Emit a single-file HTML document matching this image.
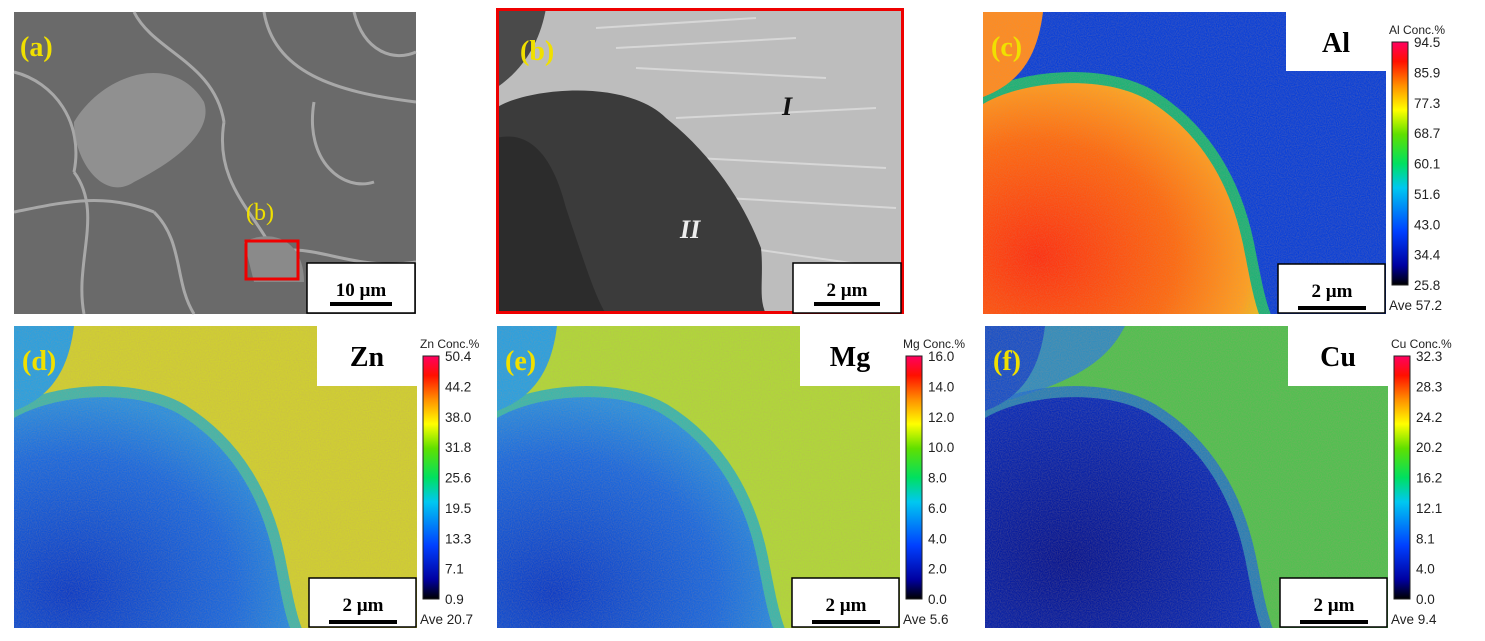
<!DOCTYPE html>
<html><head><meta charset="utf-8"><style>
body{margin:0;background:#fff;width:1485px;height:641px;overflow:hidden;font-family:"Liberation Sans",sans-serif}
svg{position:absolute;left:0;top:0}
</style></head><body>
<svg width="1485" height="641" viewBox="0 0 1485 641">
<defs>
<linearGradient id="cbar" x1="0" y1="1" x2="0" y2="0">
<stop offset="0" stop-color="#000"/><stop offset="0.08" stop-color="#0000a0"/><stop offset="0.22" stop-color="#0040ff"/><stop offset="0.4" stop-color="#00c8f0"/><stop offset="0.5" stop-color="#00e060"/><stop offset="0.62" stop-color="#60e000"/><stop offset="0.72" stop-color="#ffff00"/><stop offset="0.82" stop-color="#ff9000"/><stop offset="0.92" stop-color="#ff1000"/><stop offset="1" stop-color="#ff0060"/>
</linearGradient>
<filter id="noise" x="0" y="0" width="100%" height="100%"><feTurbulence type="fractalNoise" baseFrequency="0.9" numOctaves="1" seed="3"/><feColorMatrix type="matrix" values="0 0 0 0 0.5 0 0 0 0 0.3 0 0 0 0 0.2 0 0 0 0.5 -0.15"/></filter>
<radialGradient id="alIn" cx="0.2" cy="0.75" r="0.9"><stop offset="0" stop-color="#ff3010"/><stop offset="0.55" stop-color="#ff6a10"/><stop offset="0.85" stop-color="#ffa020"/><stop offset="1" stop-color="#d8d820"/></radialGradient>
<radialGradient id="blueIn" cx="0.2" cy="0.85" r="0.85"><stop offset="0" stop-color="#0a3cc8"/><stop offset="0.7" stop-color="#1a6ae0"/><stop offset="1" stop-color="#2a90e0"/></radialGradient>
<radialGradient id="cuIn" cx="0.3" cy="0.7" r="0.8"><stop offset="0" stop-color="#051490"/><stop offset="1" stop-color="#0a30c0"/></radialGradient>
<clipPath id="pclip"><rect width="403" height="302"/></clipPath>
<path id="part" d="M0,92 C40,68 120,62 165,88 C220,122 248,175 260,232 C266,262 270,285 276,302 L0,302 Z"/>
</defs>

<g transform="translate(14,12)">
<rect width="402" height="302" fill="#6a6a6a"/>
<g fill="none" stroke="#b8b8b8" stroke-width="3" opacity="0.8">
<path d="M0,60 C40,70 70,110 60,160 M60,160 C90,200 60,250 70,302 M120,0 C140,40 200,50 210,110 M210,110 C200,170 240,200 260,240 M260,240 C300,230 340,260 402,250 M250,0 C260,60 320,80 402,90 M300,90 C290,150 330,180 360,170 M0,200 C50,190 90,180 140,200 M140,200 C170,230 160,270 180,302 M340,0 C350,40 380,50 402,40"/>
</g>
<path d="M60,110 C90,60 160,40 190,90 C200,120 160,150 120,170 C90,190 60,150 60,110Z" fill="#9a9a9a" opacity="0.8"/>
<path d="M230,230 C260,215 290,230 290,270 L240,270Z" fill="#8a8a8a"/>
<rect x="232" y="229" width="52" height="38" fill="none" stroke="#e00" stroke-width="3"/>
<text x="232" y="208" font-family="Liberation Serif" font-size="24" fill="#f0e000">(b)</text>
<text x="6" y="44" font-family="Liberation Serif" font-size="28" font-weight="bold" fill="#f0e000">(a)</text>
<rect x="293" y="251" width="108" height="50" fill="#fff" stroke="#000" stroke-width="1.5"/>
<text x="347" y="284" text-anchor="middle" font-family="Liberation Serif" font-size="19" font-weight="bold">10 µm</text>
<rect x="316" y="290" width="62" height="4" fill="#000"/>
</g>

<g transform="translate(496,8)">
<rect width="408" height="306" fill="#bdbdbd"/>
<g stroke="#e8e8e8" stroke-width="2" opacity="0.6" fill="none"><path d="M120,40 L300,30 M140,60 L330,70 M180,110 L380,100 M200,150 L390,160 M230,190 L400,200 M250,240 L390,260 M100,20 L260,10"/></g>
<path d="M0,100 C30,80 130,70 170,110 C220,150 250,200 265,240 C268,270 262,290 270,306 L0,306 Z" fill="#3b3b3b"/>
<path d="M0,130 C40,120 60,160 70,200 C90,260 100,290 110,306 L0,306Z" fill="#2c2c2c"/>
<path d="M0,0 L50,0 C45,30 30,60 0,80Z" fill="#4a4a4a"/>
<rect x="1.5" y="1.5" width="405" height="303" fill="none" stroke="#e00" stroke-width="3"/>
<text x="24" y="52" font-family="Liberation Serif" font-size="28" font-weight="bold" fill="#f0e000">(b)</text>
<text x="286" y="107" font-family="Liberation Serif" font-size="26" font-style="italic" font-weight="bold" fill="#111">I</text>
<text x="184" y="230" font-family="Liberation Serif" font-size="26" font-style="italic" font-weight="bold" fill="#eee">II</text>
<rect x="297" y="255" width="108" height="50" fill="#fff" stroke="#000" stroke-width="1.5"/>
<text x="351" y="288" text-anchor="middle" font-family="Liberation Serif" font-size="19" font-weight="bold">2 µm</text>
<rect x="318" y="294" width="66" height="4" fill="#000"/>
</g>

<g id="maps"></g>
</svg>
<script>
const panels=['c','d','e','f'];
const elements=['Al','Zn','Mg','Cu'];
const ticksAl=['94.5','85.9','77.3','68.7','60.1','51.6','43.0','34.4','25.8'];
const ticksZn=['50.4','44.2','38.0','31.8','25.6','19.5','13.3','7.1','0.9'];
const ticksMg=['16.0','14.0','12.0','10.0','8.0','6.0','4.0','2.0','0.0'];
const ticksCu=['32.3','28.3','24.2','20.2','16.2','12.1','8.1','4.0','0.0'];
const averages=['57.2','20.7','5.6','9.4'];
const ticks=[ticksAl,ticksZn,ticksMg,ticksCu];
const origins=[[983,12],[14,326],[497,326],[985,326]];
const bgFill=['#0a40d8','#d0d030','#b0d838','#50c050'];
const haloFill=['#20d060','#20b0c8','#20b0c8','#2070d0'];
const inFill=['url(#alIn)','url(#blueIn)','url(#blueIn)','url(#cuIn)'];
const cornerFill=['#ff8c20','#2aa0e0','#2aa0e0','#1850c8'];
const NS='http://www.w3.org/2000/svg';
const root=document.getElementById('maps');
function mk(t,a,p){const e=document.createElementNS(NS,t);for(const k in a)e.setAttribute(k,a[k]);p.appendChild(e);return e;}
panels.forEach((p,i)=>{
 const [ox,oy]=origins[i];
 const g=mk('g',{transform:`translate(${ox},${oy})`},root);
 
 
 const W=403,H=302;
 const c=mk('g',{'clip-path':'url(#pclip)'},g);
 mk('rect',{width:W,height:H,fill:bgFill[i]},c);
 if(i===3){mk('path',{d:'M0,0 L140,0 C120,40 80,60 0,80Z',fill:'#2a80d8',opacity:0.8},c);}
 mk('use',{href:'#part',fill:haloFill[i],stroke:haloFill[i],'stroke-width':22,opacity:0.8},c);
 mk('use',{href:'#part',fill:inFill[i]},c);
 mk('path',{d:'M0,0 L60,0 C55,40 40,70 0,85Z',fill:cornerFill[i]},c);
 mk('rect',{width:W,height:H,filter:'url(#noise)'},c);
 mk('rect',{x:W-100,y:0,width:100,height:i===0?59:60,fill:'#fff'},g);
 const et=mk('text',{x:W-50,y:40,'text-anchor':'middle','font-family':'Liberation Serif','font-size':28,'font-weight':'bold'},g);
 et.textContent=elements[i];
 
 
 const lt=mk('text',{x:8,y:44,'font-family':'Liberation Serif','font-size':28,'font-weight':'bold',fill:'#f0e000'},g);
 lt.textContent='('+p+')';
 
 
 const sb=mk('rect',{x:W-108,y:H-50,width:107,height:49,fill:'#fff',stroke:'#000','stroke-width':1.5},g);
 
 
 const st=mk('text',{x:W-54,y:H-17,'text-anchor':'middle','font-family':'Liberation Serif','font-size':19,'font-weight':'bold'},g);
 st.textContent='2 µm';
 mk('rect',{x:W-88,y:H-8,width:68,height:4,fill:'#000'},g);
 const cx=W+6,cy=30,ch=243;
 const cb=mk('rect',{x:cx,y:cy,width:16,height:ch,fill:'url(#cbar)',stroke:'#222','stroke-width':1},g);
 
 
 const tt=mk('text',{x:cx-3,y:cy-8,'font-size':12,fill:'#222','xml:space':'preserve'},g);
 tt.textContent=elements[i]+' Conc.%';
 
 
 const tk=ticks[i];
 tk.forEach((v,j)=>{
  const t=mk('text',{x:cx+22,y:cy+5+j*ch/(tk.length-1),'font-size':13.5,fill:'#222'},g);
  t.textContent=v;
  
  
 });
 const av=mk('text',{x:cx-3,y:cy+ch+25,'font-size':13.5,fill:'#222'},g);
 av.textContent='Ave '+averages[i];
 
 
});
</script>
</body></html>
